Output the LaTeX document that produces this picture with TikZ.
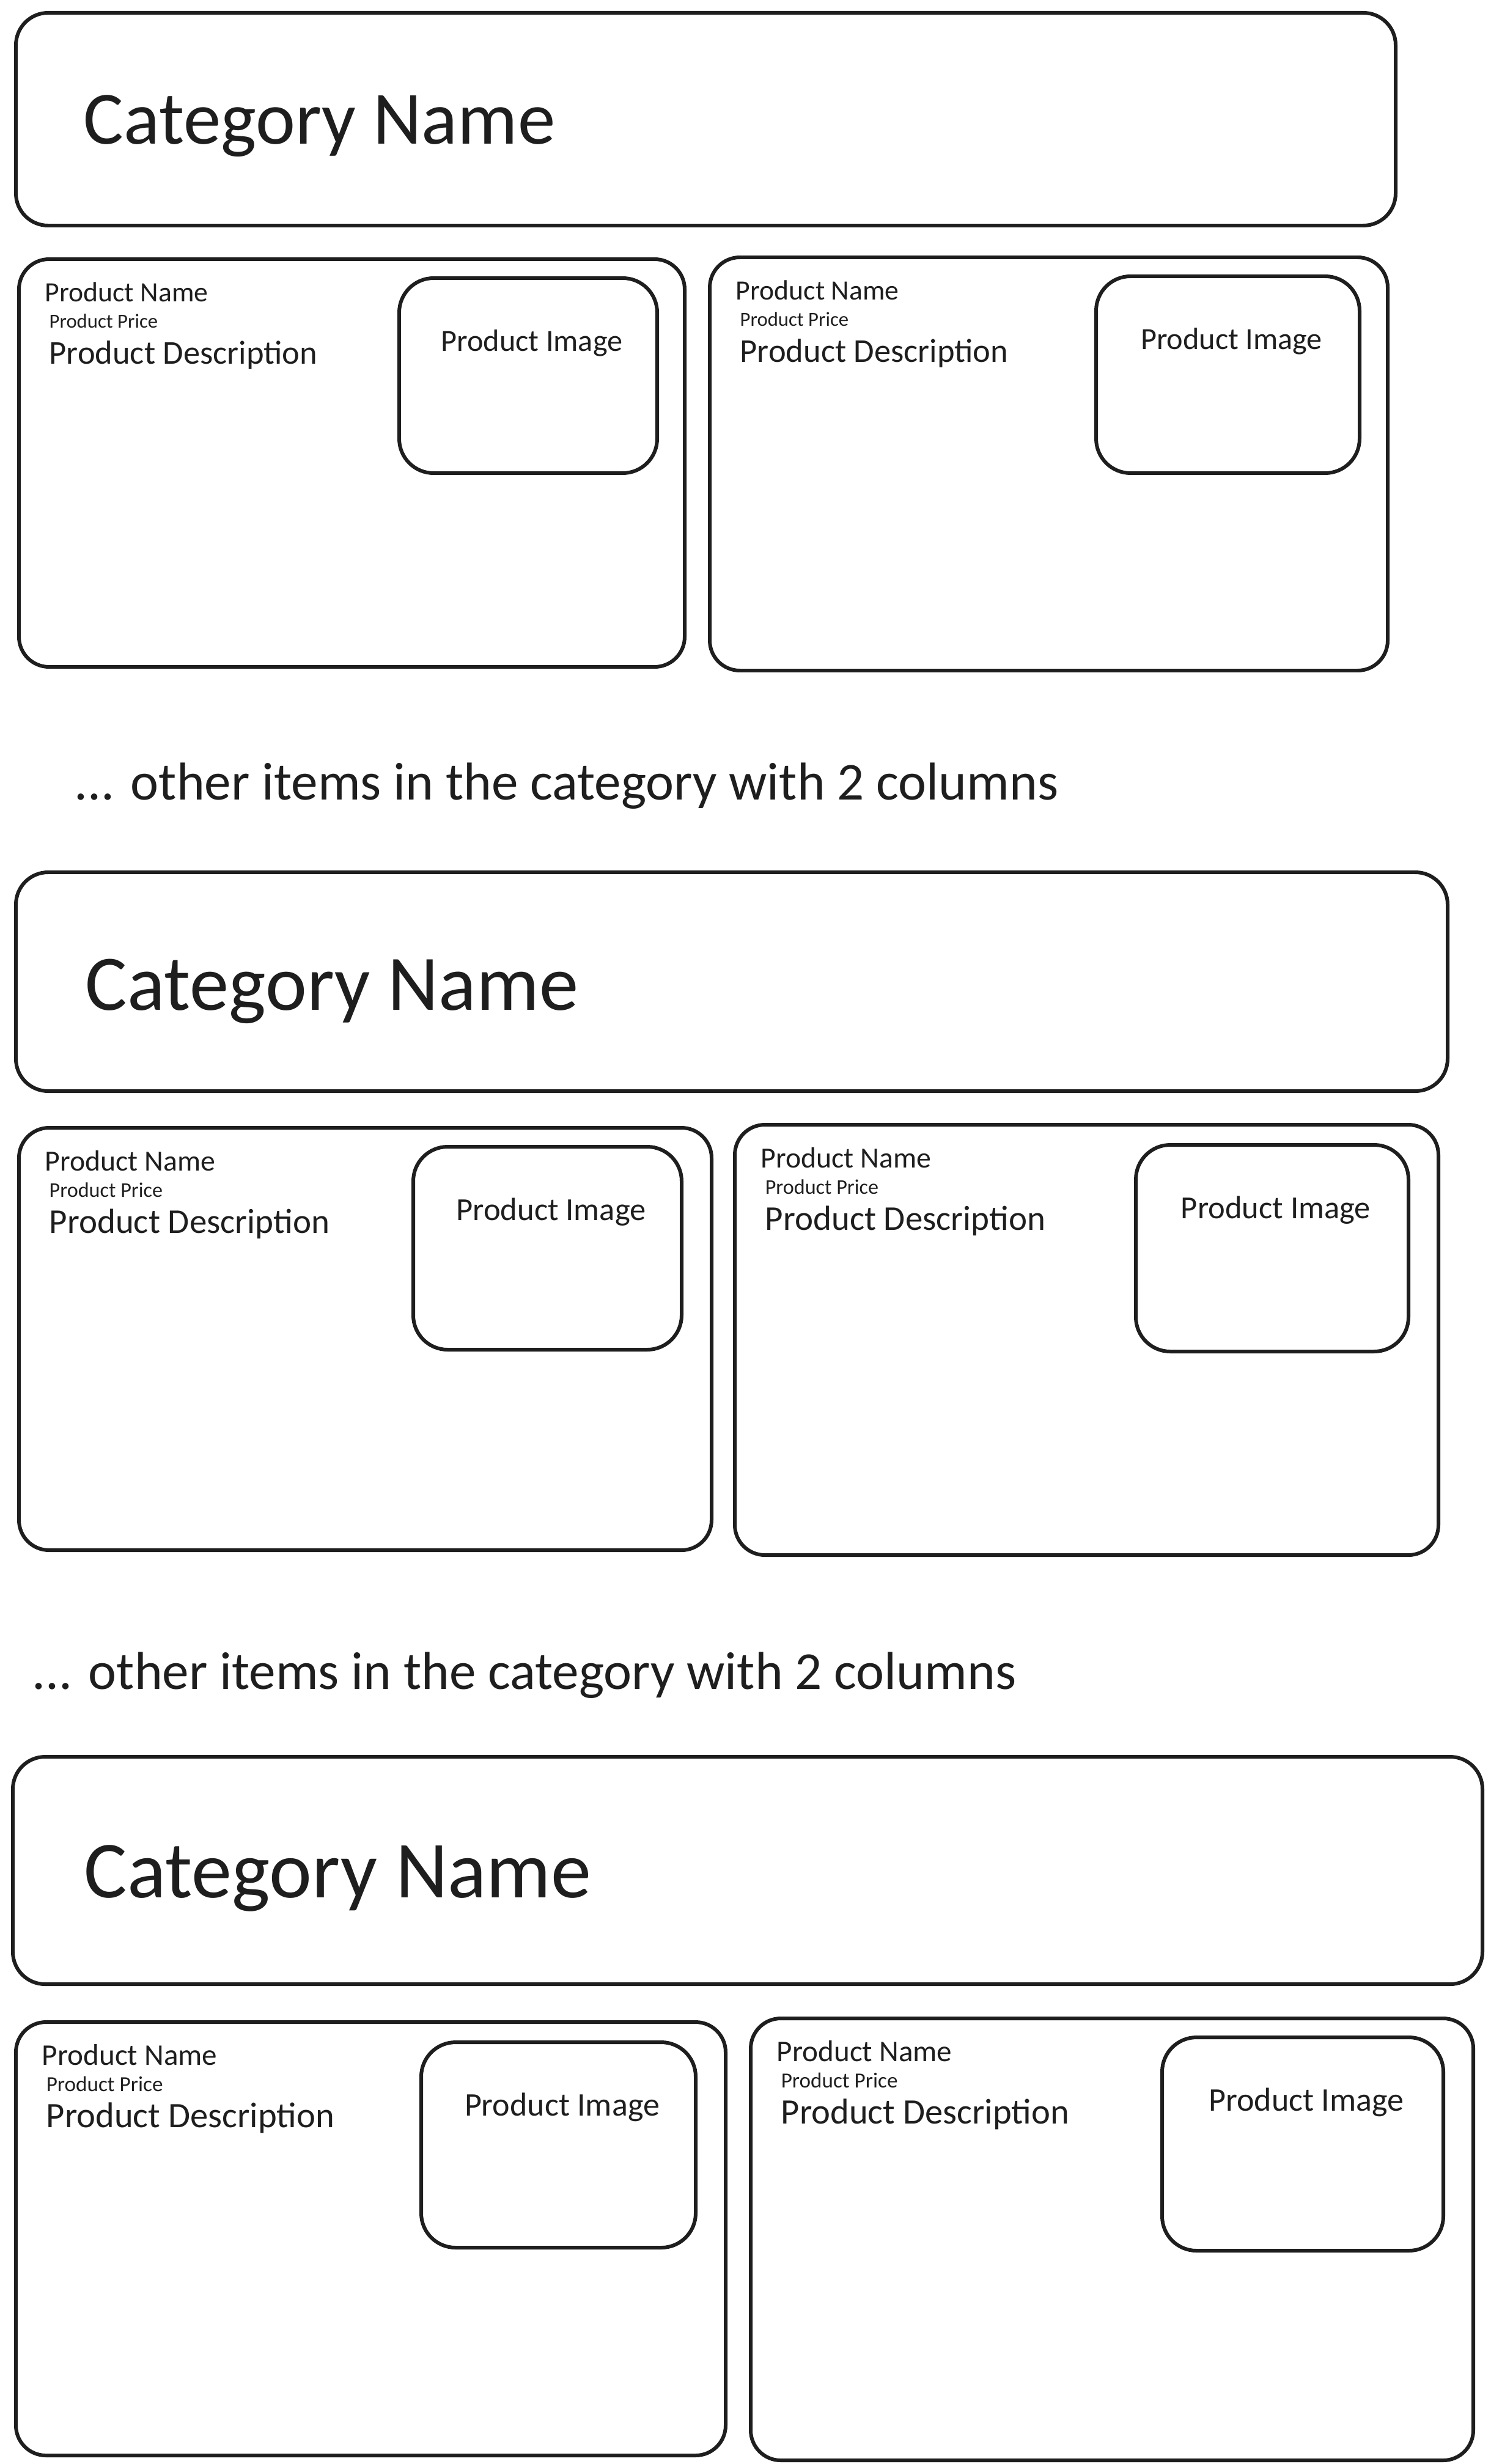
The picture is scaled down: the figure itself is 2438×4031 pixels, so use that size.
\documentclass[tikz,border=0pt]{standalone}
\usepackage{fontspec}
\setmainfont{Carlito}

\definecolor{ink}{HTML}{1E1E1E}

\tikzset{
	catbox/.style={draw=ink, line width=1.7pt, rounded corners=15pt},
	cardbox/.style={draw=ink, line width=1.7pt, rounded corners=14pt},
	imgbox/.style={draw=ink, line width=1.7pt, rounded corners=16pt},
	cattext/.style={anchor=base west, inner sep=0pt, text=ink, font=\fontsize{35}{40}\selectfont, scale=\rowscale},
	nametext/.style={anchor=base west, inner sep=0pt, text=ink, font=\fontsize{13}{15}\selectfont, scale=\rowscale},
	pricetext/.style={anchor=base west, inner sep=0pt, text=ink, font=\fontsize{9.3}{11}\selectfont, scale=\rowscale},
	desctext/.style={anchor=base west, inner sep=0pt, text=ink, font=\fontsize{15.5}{18}\selectfont, scale=\rowscale},
	imgtext/.style={anchor=base, inner sep=0pt, text=ink, font=\fontsize{14.3}{17}\selectfont, scale=\rowscale},
	moretext/.style={anchor=base west, inner sep=0pt, text=ink, font=\fontsize{24.8}{29}\selectfont},
}

\newcommand{\pcard}[9]{
	\pgfmathsetmacro{\PCimx}{(#6+#8)/2+6}
	\pgfmathsetmacro{\PCimy}{#7+120}
	\draw[cardbox] (#2,#3) rectangle (#4,#5);
	\draw[imgbox] (#6,#7) rectangle (#8,#9);
	\node[nametext] (#1name) at (#2+42,#3+70) {Product Name};
	\node[pricetext] (#1price) at (#2+49,#3+113) {Product Price};
	\node[desctext] (#1desc) at (#2+49,#3+172) {Product Description};
	\node[imgtext] (#1img) at (\PCimx,\PCimy) {Product Image};
}

\begin{document}
\begin{tikzpicture}[x=0.01cm, y=-0.01cm]
\fill[white] (0,0) rectangle (2438,4031);
\useasboundingbox (0,0) rectangle (2438,4031);

% first category
\pgfmathsetmacro{\rowscale}{1}
\draw[catbox] (26,21) rectangle (2283,369);
\node[cattext] (cat1) at (136,236) {Category Name};
\pcard{cardA}{31}{424}{1120}{1091}{653}{455}{1075}{774}
\pcard{cardB}{1161}{421}{2270}{1097}{1793}{452}{2224}{774}
\node[moretext] (more1) at (121,1308) {... other items in the category with 2 columns};

% second category
\pgfmathsetmacro{\rowscale}{1.045}
\draw[catbox] (26,1427) rectangle (2368,1785);
\node[cattext] (cat2) at (139,1652) {Category Name};
\pcard{cardC}{31}{1845}{1164}{2536}{676}{1876}{1115}{2208}
\pcard{cardD}{1202}{1840}{2353}{2544}{1858}{1873}{2304}{2211}
\node[moretext] (more2) at (52,2763) {... other items in the category with 2 columns};

% third category
\pgfmathsetmacro{\rowscale}{1.075}
\draw[catbox] (21,2874) rectangle (2425,3246);
\node[cattext] (cat3) at (137,3104) {Category Name};
\pcard{cardE}{26}{3308}{1187}{4017}{689}{3341}{1138}{3677}
\pcard{cardF}{1228}{3302}{2410}{4025}{1901}{3333}{2361}{3682}
\end{tikzpicture}
\end{document}
